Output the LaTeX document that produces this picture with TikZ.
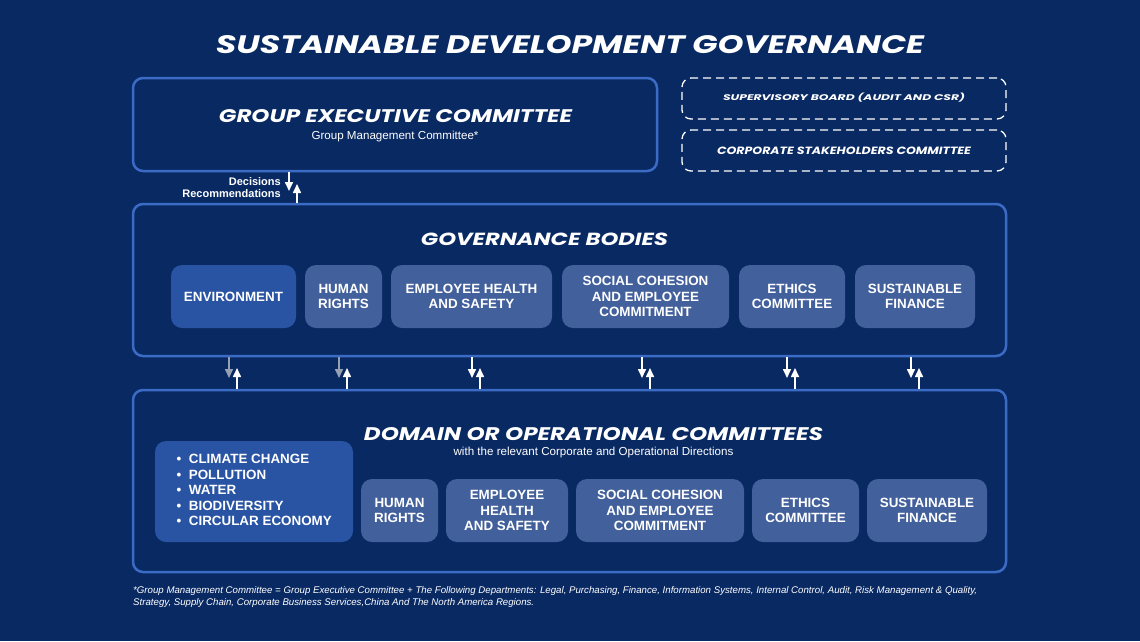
\documentclass[tikz,border=0pt]{standalone}
\usepackage{fontspec}
\setmainfont{Liberation Sans}
\newfontfamily\headfont{Poppins}
\usetikzlibrary{arrows.meta}
\definecolor{bg}{RGB}{9,41,99}
\definecolor{bord}{RGB}{59,107,196}
\definecolor{boxc}{RGB}{66,96,156}
\definecolor{envc}{RGB}{41,84,163}
\definecolor{arrgray}{RGB}{150,160,178}
\newcommand\hd[3]{\resizebox{#1}{#2}{\headfont\bfseries\itshape #3}}
\newcommand\bfs{\fontsize{13.4}{15.5}\selectfont\bfseries}
\begin{document}
\begin{tikzpicture}[x=1pt,y=-1pt,
  outerbox/.style={draw=bord, line width=2.5pt, rounded corners=10pt, inner sep=0pt},
  dashbox/.style={draw=white, line width=1.3pt, dash pattern=on 8pt off 5pt, rounded corners=9pt, inner sep=0pt, minimum width=324pt, minimum height=41pt},
  inbox/.style={fill=boxc, rounded corners=11pt, inner sep=0pt, minimum height=63pt, text=white, align=center, font=\bfs},
  envbox/.style={inbox, fill=envc},
  txt/.style={text=white, inner sep=0pt},
  arr/.style={draw=white, line width=1.6pt, -{Triangle[width=8pt,length=9pt]}}
]
\fill[bg] (0,0) rectangle (1140,641);
\useasboundingbox (0,0) rectangle (1140,641);

% title
\node[txt] (title) at (570,44.5) {\hd{708pt}{18pt}{SUSTAINABLE DEVELOPMENT GOVERNANCE}};

% group executive committee
\node[outerbox, minimum width=524pt, minimum height=93pt] (gec) at (395,124.5) {};
\node[txt] (gech) at (395.5,116) {\hd{353pt}{13pt}{GROUP EXECUTIVE COMMITTEE}};
\node[txt, font=\fontsize{11.6}{14}\selectfont] (gecs) at (395,136.5) {Group Management Committee*};

% dashed boxes
\node[dashbox] (sup) at (844,98.5) {};
\node[txt] (suph) at (844,98) {\hd{242pt}{7.5pt}{SUPERVISORY BOARD (AUDIT AND CSR)}};
\node[dashbox] (csc) at (844,150.5) {};
\node[txt] (csch) at (844,151) {\hd{254pt}{7.5pt}{CORPORATE STAKEHOLDERS COMMITTEE}};

% governance bodies
\node[outerbox, minimum width=873pt, minimum height=152pt] (gov) at (569.5,280) {};
\node[txt] (govh) at (544.5,239.5) {\hd{247pt}{12.5pt}{GOVERNANCE BODIES}};
\node[envbox, minimum width=125pt] (env) at (233.5,296.5) {ENVIRONMENT};
\node[inbox, minimum width=77pt] (hr) at (343.5,296.5) {HUMAN\\RIGHTS};
\node[inbox, minimum width=161pt] (ehs) at (471.5,296.5) {EMPLOYEE HEALTH\\AND SAFETY};
\node[inbox, minimum width=167pt] (soc) at (645.5,296.5) {SOCIAL COHESION\\AND EMPLOYEE\\COMMITMENT};
\node[inbox, minimum width=106pt] (eth) at (792,296.5) {ETHICS\\COMMITTEE};
\node[inbox, minimum width=120pt] (fin) at (915,296.5) {SUSTAINABLE\\FINANCE};

% domain committees
\node[outerbox, minimum width=873pt, minimum height=182pt] (dom) at (569.5,481) {};
\node[txt] (domh) at (593.5,434.5) {\hd{459pt}{13pt}{DOMAIN OR OPERATIONAL COMMITTEES}};
\node[txt, font=\fontsize{11.6}{14}\selectfont] (doms) at (593.5,452.5) {with the relevant Corporate and Operational Directions};
\node[envbox, minimum width=198pt, minimum height=101pt] (bul) at (254,491.5) {};
\node[txt, font=\bfs, align=left, anchor=north west] (bult) at (176.5,454) {%
\textbullet\hspace{7.5pt}CLIMATE CHANGE\\
\textbullet\hspace{7.5pt}POLLUTION\\
\textbullet\hspace{7.5pt}WATER\\
\textbullet\hspace{7.5pt}BIODIVERSITY\\
\textbullet\hspace{7.5pt}CIRCULAR ECONOMY};
\node[inbox, minimum width=77pt] (hr2) at (399.5,510.5) {HUMAN\\RIGHTS};
\node[inbox, minimum width=122pt] (ehs2) at (507,510.5) {EMPLOYEE\\HEALTH\\AND SAFETY};
\node[inbox, minimum width=168pt] (soc2) at (660,510.5) {SOCIAL COHESION\\AND EMPLOYEE\\COMMITMENT};
\node[inbox, minimum width=107pt] (eth2) at (805.5,510.5) {ETHICS\\COMMITTEE};
\node[inbox, minimum width=120pt] (fin2) at (927,510.5) {SUSTAINABLE\\FINANCE};

% decisions / recommendations
\node[txt, anchor=east, font=\fontsize{11}{13}\selectfont\bfseries] (dec) at (281,182) {Decisions};
\node[txt, anchor=east, font=\fontsize{11}{13}\selectfont\bfseries] (rec) at (281,194) {Recommendations};
\coordinate (d0) at (289,191);
\coordinate (u0) at (297,184);
\draw[arr] (gec.south -| d0) -- (d0);
\draw[arr] (gov.north -| u0) -- (u0);

% arrows between governance and domain
\foreach \xd/\col [count=\i] in {229/arrgray,339/arrgray,472/white,642/white,787/white,911/white}{
  \coordinate (dn\i) at (\xd,378);
  \coordinate (up\i) at (\xd+8,368);
  \draw[arr, draw=\col] (gov.south -| dn\i) -- (dn\i);
  \draw[arr] (dom.north -| up\i) -- (up\i);
}

% footnote
\node[txt, anchor=north west] (foot) at (133,585) {\resizebox{844pt}{!}{\fontsize{9.5}{12}\selectfont\itshape
\begin{tabular}{@{}l@{}}
*Group Management Committee = Group Executive Committee + The Following Departments: Legal, Purchasing, Finance, Information Systems, Internal Control, Audit, Risk Management \& Quality,\\
Strategy, Supply Chain, Corporate Business Services,China And The North America Regions.
\end{tabular}}};
\end{tikzpicture}
\end{document}
